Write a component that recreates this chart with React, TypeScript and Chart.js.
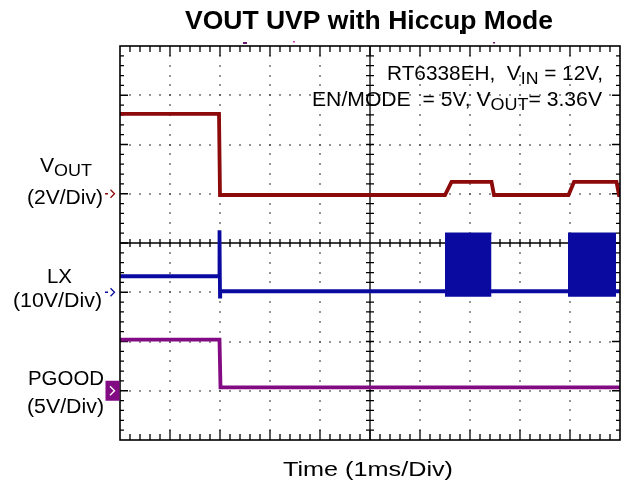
import React, { useEffect, useRef } from "react";
import { Chart, registerables } from "chart.js";

Chart.register(...registerables);

// ---------- text ----------
const TITLE = "VOUT UVP with Hiccup Mode";
const X_LABEL = "Time (1ms/Div)";
const NOTE_LINE1 = ["RT6338EH,  V", "IN", " = 12V,"];
const NOTE_LINE2 = ["EN/MODE  = 5V, V", "OUT", "= 3.36V"];

// ---------- screen grid (divisions) ----------
const X_DIVS = 10; // 1 ms / div
const Y_DIVS = 8;

// ---------- channels ----------
const channelNames = ["VOUT", "LX", "PGOOD"];
const channelVoltsPerDiv = [2, 10, 5];
const channelOffsetDiv = [1, -1, -3];
const channelColors = ["#8c0a0a", "#0a0aa0", "#820a82"];

// ---------- data (time in ms, values in volts) ----------
const voutTime = [0, 1.98, 2.0, 6.5, 6.63, 7.43, 7.48, 8.97, 9.08, 9.93, 9.98, 10];
const voutVolts = [3.24, 3.24, -0.05, -0.05, 0.48, 0.48, -0.05, -0.05, 0.48, 0.48, -0.05, -0.05];

const lxTime = [0, 1.98, 1.99, 2.0, 2.004, 10];
const lxVolts = [3.25, 3.25, 12.6, -0.9, 0.2, 0.2];

// LX switching bursts during hiccup restart (envelope of the switching node)
const lxBurstStart = [6.5, 8.96];
const lxBurstEnd = [7.43, 9.92];
const lxBurstHigh = [12.0, 12.0];
const lxBurstLow = [-0.9, -0.9];

const pgoodTime = [0, 1.99, 2.01, 10];
const pgoodVolts = [5.2, 5.2, 0.35, 0.35];

const toDiv = (ch: number, v: number) => channelOffsetDiv[ch] + v / channelVoltsPerDiv[ch];
const series = (ch: number, t: number[], v: number[]) => t.map((x, i) => ({ x, y: toDiv(ch, v[i]) }));

const FONT = "'Liberation Sans', Arial, sans-serif";

type Seg = { t: string; font: string; dy?: number };

function drawRich(ctx: CanvasRenderingContext2D, segs: Seg[], left: number, baseline: number, width: number, color = "#000") {
  let total = 0;
  const ws = segs.map((s) => {
    ctx.font = s.font;
    const w = ctx.measureText(s.t).width;
    total += w;
    return w;
  });
  const k = width / total;
  ctx.save();
  ctx.fillStyle = color;
  ctx.textAlign = "left";
  ctx.textBaseline = "alphabetic";
  ctx.translate(left, baseline);
  ctx.scale(k, 1);
  let x = 0;
  segs.forEach((s, i) => {
    ctx.font = s.font;
    ctx.fillText(s.t, x, s.dy || 0);
    x += ws[i];
  });
  ctx.restore();
}

const scopePlugin = {
  id: "scopeFrame",
  beforeDatasetsDraw(chart: any) {
    const ctx: CanvasRenderingContext2D = chart.ctx;
    const { left: L, right: R, top: T, bottom: B } = chart.chartArea;
    const dx = (R - L) / X_DIVS;
    const dy = (B - T) / Y_DIVS;
    ctx.save();
    // dotted division grid
    ctx.fillStyle = "#444";
    for (let i = 1; i < X_DIVS; i++) {
      if (i === X_DIVS / 2) continue;
      const x = L + i * dx;
      for (let k = 1; k < Y_DIVS * 5; k++) {
        const y = T + (k * dy) / 5;
        ctx.fillRect(Math.round(x) - 0.75, Math.round(y) - 0.75, 1.5, 1.5);
      }
    }
    for (let j = 1; j < Y_DIVS; j++) {
      if (j === Y_DIVS / 2) continue;
      const y = T + j * dy;
      for (let k = 1; k < X_DIVS * 5; k++) {
        const x = L + (k * dx) / 5;
        ctx.fillRect(Math.round(x) - 0.75, Math.round(y) - 0.75, 1.5, 1.5);
      }
    }
    // centre crosshair
    const cx = L + (X_DIVS / 2) * dx;
    const cy = T + (Y_DIVS / 2) * dy;
    ctx.strokeStyle = "#000";
    ctx.lineWidth = 1.3;
    ctx.beginPath();
    ctx.moveTo(L, cy);
    ctx.lineTo(R, cy);
    ctx.moveTo(cx, T);
    ctx.lineTo(cx, B);
    for (let k = 1; k < X_DIVS * 5; k++) {
      const x = L + (k * dx) / 5;
      ctx.moveTo(x, cy - 4);
      ctx.lineTo(x, cy + 4);
    }
    for (let k = 1; k < Y_DIVS * 5; k++) {
      const y = T + (k * dy) / 5;
      ctx.moveTo(cx - 4, y);
      ctx.lineTo(cx + 4, y);
    }
    ctx.stroke();
    // border ticks
    ctx.beginPath();
    for (let k = 1; k < X_DIVS * 5; k++) {
      const x = L + (k * dx) / 5;
      const len = k % 5 === 0 ? 10 : 6;
      ctx.moveTo(x, T);
      ctx.lineTo(x, T + len);
      ctx.moveTo(x, B);
      ctx.lineTo(x, B - len);
    }
    for (let k = 1; k < Y_DIVS * 5; k++) {
      const y = T + (k * dy) / 5;
      const len = k % 5 === 0 ? 8 : 4;
      ctx.moveTo(L, y);
      ctx.lineTo(L + len, y);
      ctx.moveTo(R, y);
      ctx.lineTo(R - len, y);
    }
    ctx.stroke();
    ctx.restore();
  },
  afterDraw(chart: any) {
    const ctx: CanvasRenderingContext2D = chart.ctx;
    const { left: L, right: R, top: T, bottom: B } = chart.chartArea;
    const dy = (B - T) / Y_DIVS;
    const cy = T + (Y_DIVS / 2) * dy;
    ctx.save();
    // frame
    ctx.strokeStyle = "#000";
    ctx.lineWidth = 1.6;
    ctx.strokeRect(L, T, R - L, B - T);

    // title & axis label
    drawRich(ctx, [{ t: TITLE, font: `bold 25px ${FONT}` }], 185, 29, 368);
    drawRich(ctx, [{ t: X_LABEL, font: `21px ${FONT}` }], 283, 476, 170);

    // notes
    const big = `20px ${FONT}`;
    const sub = `17px ${FONT}`;
    drawRich(ctx, [{ t: NOTE_LINE1[0], font: big }, { t: NOTE_LINE1[1], font: sub, dy: 4 }, { t: NOTE_LINE1[2], font: big }], 387, 80, 216);
    drawRich(ctx, [{ t: NOTE_LINE2[0], font: big }, { t: NOTE_LINE2[1], font: sub, dy: 4 }, { t: NOTE_LINE2[2], font: big }], 312, 106, 290);

    // channel labels
    drawRich(ctx, [{ t: "V", font: big }, { t: "OUT", font: sub, dy: 4 }], 40, 172, 52);
    drawRich(ctx, [{ t: `(${channelVoltsPerDiv[0]}V/Div)`, font: big }], 27, 204, 76);
    drawRich(ctx, [{ t: channelNames[1], font: big }], 47, 283, 25);
    drawRich(ctx, [{ t: `(${channelVoltsPerDiv[1]}V/Div)`, font: big }], 13, 307, 89);
    drawRich(ctx, [{ t: channelNames[2], font: big }], 28, 385, 76);
    drawRich(ctx, [{ t: `(${channelVoltsPerDiv[2]}V/Div)`, font: big }], 27, 413, 77);

    // channel ground markers
    const markerY = channelOffsetDiv.map((o) => cy - o * dy);
    for (let c = 0; c < 2; c++) {
      const y = markerY[c];
      ctx.strokeStyle = channelColors[c];
      ctx.lineWidth = 1.3;
      ctx.beginPath();
      ctx.moveTo(105, y);
      ctx.lineTo(108, y);
      ctx.moveTo(110.5, y - 4);
      ctx.lineTo(114.5, y);
      ctx.lineTo(110.5, y + 4);
      ctx.stroke();
    }
    const py = markerY[2];
    ctx.fillStyle = channelColors[2];
    ctx.fillRect(105.5, py - 10, 14, 20);
    ctx.strokeStyle = "#fff";
    ctx.lineWidth = 1.4;
    ctx.beginPath();
    ctx.moveTo(110, py - 4.5);
    ctx.lineTo(114.5, py);
    ctx.lineTo(110, py + 4.5);
    ctx.stroke();

    // small trigger / cursor marks above the screen
    ctx.fillStyle = "#6a1a6a";
    ctx.fillRect(243, 42, 4, 2);
    ctx.fillStyle = "#c040c0";
    ctx.fillRect(293, 41, 2, 1.5);
    ctx.fillStyle = "#000";
    ctx.fillRect(460, 30, 2, 4);
    ctx.fillStyle = "#6a1a6a";
    ctx.fillRect(493, 42, 2, 1.5);
    ctx.restore();
  },
};

export default function App() {
  const ref = useRef<HTMLCanvasElement | null>(null);
  useEffect(() => {
    if (!ref.current) return;
    const burstSets = lxBurstStart.map((s, i) => ({
      label: `${channelNames[1]} switching ${i + 1}`,
      data: [
        { x: s, y: toDiv(1, lxBurstHigh[i]) },
        { x: lxBurstEnd[i], y: toDiv(1, lxBurstHigh[i]) },
      ],
      borderColor: channelColors[1],
      backgroundColor: channelColors[1],
      borderWidth: 1.5,
      pointRadius: 0,
      showLine: true,
      fill: { value: toDiv(1, lxBurstLow[i]) },
    }));
    const chart = new Chart(ref.current, {
      type: "scatter",
      data: {
        datasets: [
          {
            label: channelNames[0],
            data: series(0, voutTime, voutVolts),
            borderColor: channelColors[0],
            borderWidth: 3.8,
            pointRadius: 0,
            showLine: true,
            fill: false,
          },
          {
            label: channelNames[1],
            data: series(1, lxTime, lxVolts),
            borderColor: channelColors[1],
            borderWidth: 3.8,
            pointRadius: 0,
            showLine: true,
            fill: false,
          },
          ...burstSets,
          {
            label: channelNames[2],
            data: series(2, pgoodTime, pgoodVolts),
            borderColor: channelColors[2],
            borderWidth: 3.8,
            pointRadius: 0,
            showLine: true,
            fill: false,
          },
        ] as any,
      },
      options: {
        animation: false,
        responsive: false,
        devicePixelRatio: 1,
        layout: { padding: { left: 120, right: 2, top: 46, bottom: 49 } },
        scales: {
          x: { type: "linear", min: 0, max: X_DIVS, display: false },
          y: { type: "linear", min: -Y_DIVS / 2, max: Y_DIVS / 2, display: false },
        },
        plugins: { legend: { display: false }, tooltip: { enabled: false }, title: { display: false } },
        elements: { line: { tension: 0 } },
      } as any,
      plugins: [scopePlugin],
    });
    return () => chart.destroy();
  }, []);
  return (
    <div style={{ position: "fixed", left: 0, top: 0, width: 622, height: 489, background: "#fff" }}>
      <canvas ref={ref} width={622} height={489} style={{ display: "block" }} />
    </div>
  );
}
